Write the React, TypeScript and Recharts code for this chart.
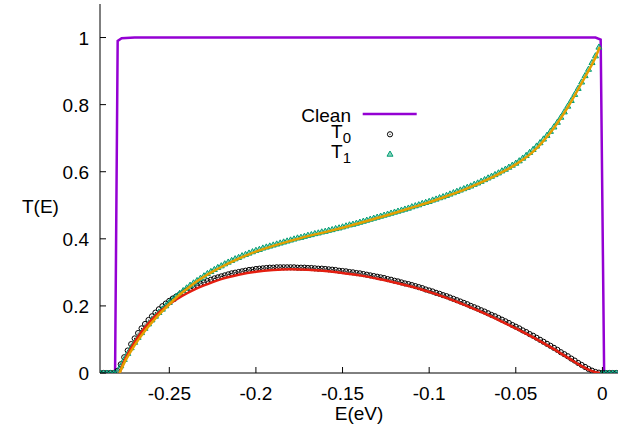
import { ComposedChart, Line, Scatter, XAxis, YAxis, Legend } from 'recharts';

// marker samples are evenly spaced in E
const E_START = -0.29;
const E_STEP = 0.002;

// T0 (open circles), rows of 10 starting at -0.290, -0.270, ...
const T0 = [
  0, 0, 0, 0, 0, 0.006, 0.026, 0.047, 0.067, 0.086,
  0.103, 0.119, 0.133, 0.146, 0.158, 0.169, 0.180, 0.190, 0.199, 0.207,
  0.215, 0.222, 0.228, 0.234, 0.240, 0.246, 0.251, 0.256, 0.261, 0.266,
  0.270, 0.274, 0.278, 0.282, 0.285, 0.288, 0.291, 0.294, 0.297, 0.299,
  0.301, 0.303, 0.305, 0.307, 0.308, 0.310, 0.311, 0.312, 0.313, 0.314,
  0.314, 0.315, 0.315, 0.315, 0.315, 0.315, 0.315, 0.314, 0.314, 0.314,
  0.313, 0.313, 0.312, 0.311, 0.311, 0.310, 0.309, 0.308, 0.307, 0.305,
  0.304, 0.303, 0.301, 0.300, 0.298, 0.297, 0.295, 0.293, 0.291, 0.289,
  0.287, 0.285, 0.283, 0.280, 0.278, 0.275, 0.273, 0.270, 0.267, 0.265,
  0.262, 0.259, 0.256, 0.253, 0.249, 0.246, 0.243, 0.239, 0.236, 0.232,
  0.229, 0.225, 0.221, 0.217, 0.213, 0.209, 0.205, 0.200, 0.196, 0.192,
  0.187, 0.183, 0.178, 0.173, 0.169, 0.164, 0.159, 0.154, 0.149, 0.143,
  0.138, 0.133, 0.127, 0.122, 0.116, 0.111, 0.105, 0.099, 0.093, 0.087,
  0.081, 0.075, 0.069, 0.062, 0.056, 0.050, 0.043, 0.037, 0.030, 0.024,
  0.018, 0.012, 0.007, 0.003, 0.001, 0, 0, 0, 0, 0,
];

// T1 (triangles), same grid
const T1 = [
  0, 0, 0, 0, 0, 0.004, 0.022, 0.041, 0.059, 0.076,
  0.092, 0.107, 0.121, 0.134, 0.147, 0.159, 0.170, 0.181, 0.191, 0.201,
  0.211, 0.220, 0.229, 0.238, 0.246, 0.254, 0.262, 0.269, 0.276, 0.283,
  0.290, 0.297, 0.303, 0.309, 0.315, 0.320, 0.326, 0.331, 0.336, 0.341,
  0.345, 0.350, 0.354, 0.358, 0.362, 0.366, 0.369, 0.373, 0.376, 0.379,
  0.382, 0.385, 0.388, 0.391, 0.394, 0.397, 0.400, 0.403, 0.405, 0.408,
  0.411, 0.413, 0.416, 0.418, 0.421, 0.423, 0.426, 0.428, 0.431, 0.433,
  0.436, 0.439, 0.442, 0.444, 0.447, 0.450, 0.453, 0.456, 0.459, 0.462,
  0.465, 0.468, 0.471, 0.474, 0.477, 0.480, 0.483, 0.486, 0.489, 0.492,
  0.496, 0.499, 0.502, 0.506, 0.509, 0.512, 0.516, 0.519, 0.523, 0.526,
  0.530, 0.534, 0.538, 0.542, 0.546, 0.550, 0.554, 0.558, 0.563, 0.567,
  0.572, 0.577, 0.582, 0.587, 0.592, 0.597, 0.603, 0.608, 0.614, 0.620,
  0.626, 0.633, 0.641, 0.649, 0.658, 0.667, 0.677, 0.687, 0.698, 0.709,
  0.721, 0.734, 0.748, 0.763, 0.779, 0.796, 0.813, 0.831, 0.849, 0.868,
  0.887, 0.906, 0.926, 0.946, 0.972, 0, 0, 0, 0, 0,
];

// smooth curves drawn through the two data sets
const FIT_E = [
  -0.2787, -0.276, -0.272, -0.268, -0.264, -0.26, -0.255, -0.25, -0.245, -0.24,
  -0.235, -0.23, -0.225, -0.22, -0.21, -0.2, -0.19, -0.18, -0.17, -0.16,
  -0.15, -0.14, -0.13, -0.12, -0.11, -0.1, -0.09, -0.08, -0.07, -0.06,
  -0.05, -0.04, -0.03, -0.02, -0.01, -0.005, -0.0015,
];
const FIT0 = [
  0, 0.035, 0.075, 0.108, 0.136, 0.160, 0.185, 0.205, 0.222, 0.237,
  0.250, 0.261, 0.271, 0.280, 0.293, 0.302, 0.307, 0.309, 0.308, 0.304,
  0.298, 0.291, 0.281, 0.270, 0.257, 0.242, 0.224, 0.204, 0.182, 0.158,
  0.133, 0.106, 0.077, 0.046, 0.015, 0.004, 0,
];
const FIT1 = [
  0, 0.030, 0.066, 0.098, 0.126, 0.151, 0.179, 0.205, 0.229, 0.250,
  0.270, 0.287, 0.302, 0.316, 0.341, 0.362, 0.379, 0.394, 0.408, 0.420,
  0.433, 0.447, 0.462, 0.477, 0.493, 0.509, 0.527, 0.546, 0.568, 0.593,
  0.622, 0.660, 0.717, 0.792, 0.883, 0.930, 0.972,
];

// clean system: a flat window of full transmission
const CLEAN_E = [-0.29, -0.2813, -0.2798, -0.2775, -0.27, -0.004, -0.001, 0.001, 0.009];
const CLEAN_T = [0, 0, 0.99, 0.998, 1.0, 1.0, 0.994, 0, 0];

const X_TICKS = [-0.25, -0.2, -0.15, -0.1, -0.05, 0];
const Y_TICKS = [0, 0.2, 0.4, 0.6, 0.8, 1];

const COLORS = {
  clean: '#9400d3',
  t0: '#000000',
  t1: '#009e73',
  fit0: '#e51e10',
  fit1: '#e69f00',
};
const FONT = '"Liberation Sans", Arial, Helvetica, sans-serif';
const FS = 19;
const TICK = 6;

const grid = T0.map((_, i) => Number((E_START + i * E_STEP).toFixed(3)));
const t0Data = grid.map((e, i) => ({ e, t: T0[i] }));
const t1Data = grid.map((e, i) => ({ e, t: T1[i] }));
const fit0Data = FIT_E.map((e, i) => ({ e, t: FIT0[i] }));
const fit1Data = FIT_E.map((e, i) => ({ e, t: FIT1[i] }));
const cleanData = CLEAN_E.map((e, i) => ({ e, t: CLEAN_T[i] }));

const CircleMark = (p: any) => (
  <g>
    <circle cx={p.cx} cy={p.cy} r={2.6} fill="none" stroke={COLORS.t0} strokeWidth={1} />
    <circle cx={p.cx} cy={p.cy} r={0.6} fill={COLORS.t0} />
  </g>
);

const TriMark = (p: any) => (
  <polygon
    points={`${p.cx},${p.cy - 3} ${p.cx - 3},${p.cy + 2.2} ${p.cx + 3},${p.cy + 2.2}`}
    fill={COLORS.t1}
    fillOpacity={0.45}
    stroke={COLORS.t1}
    strokeWidth={1}
  />
);

// gnuplot style: ticks point inwards on all four sides
const BottomTick = ({ x, y, payload }: any) => (
  <g>
    <line x1={x} x2={x} y1={y} y2={y - TICK} stroke="#000" />
    <text x={x} y={y + 27} textAnchor="middle" fontSize={FS} fontFamily={FONT} fill="#000">
      {String(payload.value)}
    </text>
  </g>
);
const TopTick = ({ x, y }: any) => <line x1={x} x2={x} y1={y} y2={y + TICK} stroke="#000" />;
const LeftTick = ({ x, y, payload }: any) => (
  <g>
    <line x1={x} x2={x + TICK} y1={y} y2={y} stroke="#000" />
    <text x={x - 11} y={y + 7} textAnchor="end" fontSize={FS} fontFamily={FONT} fill="#000">
      {String(payload.value)}
    </text>
  </g>
);
const RightTick = ({ x, y }: any) => <line x1={x} x2={x - TICK} y1={y} y2={y} stroke="#000" />;

const Key = () => (
  <svg width={150} height={70} style={{ display: 'block', overflow: 'visible' }}>
    <g fontFamily={FONT} fontSize={FS} fill="#000">
      <text x={61} y={21.7} textAnchor="end">Clean</text>
      <line x1={72.7} x2={126.7} y1={14} y2={14} stroke={COLORS.clean} strokeWidth={2.5} />
      <text x={61} y={38.3} textAnchor="end">
        T<tspan dy={5} fontSize={15}>0</tspan>
      </text>
      <CircleMark cx={100} cy={34.3} />
      <text x={61} y={58.3} textAnchor="end">
        T<tspan dy={5} fontSize={15}>1</tspan>
      </text>
      <TriMark cx={100} cy={54} />
    </g>
  </svg>
);

export default function App() {
  return (
    <div style={{ position: 'absolute', left: 0, top: 0, width: 620, height: 441, background: '#fff' }}>
      <ComposedChart width={620} height={441} margin={{ top: 4, right: 2, bottom: 0, left: 0 }}>
        <XAxis
          dataKey="e"
          type="number"
          domain={[-0.29, 0.009]}
          ticks={X_TICKS}
          interval={0}
          allowDataOverflow
          height={68}
          tickSize={0}
          tickMargin={0}
          tickLine={false}
          axisLine={{ stroke: '#000' }}
          tick={<BottomTick />}
          label={{
            content: ({ viewBox }: any) => (
              <text
                x={viewBox.x + viewBox.width / 2}
                y={viewBox.y + 47}
                textAnchor="middle"
                fontSize={FS}
                fontFamily={FONT}
                fill="#000"
              >
                E(eV)
              </text>
            ),
          }}
        />
        <XAxis
          xAxisId="top"
          orientation="top"
          dataKey="e"
          type="number"
          domain={[-0.29, 0.009]}
          ticks={X_TICKS}
          interval={0}
          allowDataOverflow
          height={0}
          tickSize={0}
          tickMargin={0}
          tickLine={false}
          axisLine={{ stroke: '#000' }}
          tick={<TopTick />}
        />
        <YAxis
          type="number"
          domain={[0, 1.1]}
          ticks={Y_TICKS}
          interval={0}
          allowDataOverflow
          width={100}
          tickSize={0}
          tickMargin={0}
          tickLine={false}
          axisLine={{ stroke: '#000' }}
          tick={<LeftTick />}
          label={{
            content: () => (
              <text x={22} y={213} fontSize={FS} fontFamily={FONT} fill="#000">
                T(E)
              </text>
            ),
          }}
        />
        <YAxis
          yAxisId="right"
          orientation="right"
          type="number"
          domain={[0, 1.1]}
          ticks={Y_TICKS}
          interval={0}
          allowDataOverflow
          width={0}
          tickSize={0}
          tickMargin={0}
          tickLine={false}
          axisLine={{ stroke: '#000' }}
          tick={<RightTick />}
        />
        <Legend
          layout="horizontal"
          verticalAlign="middle"
          align="center"
          wrapperStyle={{ left: 290, top: 100, width: 150, height: 70 }}
          content={() => <Key />}
        />
        <Line
          data={cleanData}
          dataKey="t"
          type="linear"
          stroke={COLORS.clean}
          strokeWidth={2.5}
          dot={false}
          isAnimationActive={false}
        />
        <Scatter data={t0Data} dataKey="t" shape={<CircleMark />} isAnimationActive={false} />
        <Scatter data={t1Data} dataKey="t" shape={<TriMark />} isAnimationActive={false} />
        <Line
          data={fit0Data}
          dataKey="t"
          type="monotone"
          stroke={COLORS.fit0}
          strokeWidth={2.5}
          dot={false}
          zIndex={700}
          isAnimationActive={false}
        />
        <Line
          data={fit1Data}
          dataKey="t"
          type="monotone"
          stroke={COLORS.fit1}
          strokeWidth={2.5}
          dot={false}
          zIndex={710}
          isAnimationActive={false}
        />
      </ComposedChart>
    </div>
  );
}
